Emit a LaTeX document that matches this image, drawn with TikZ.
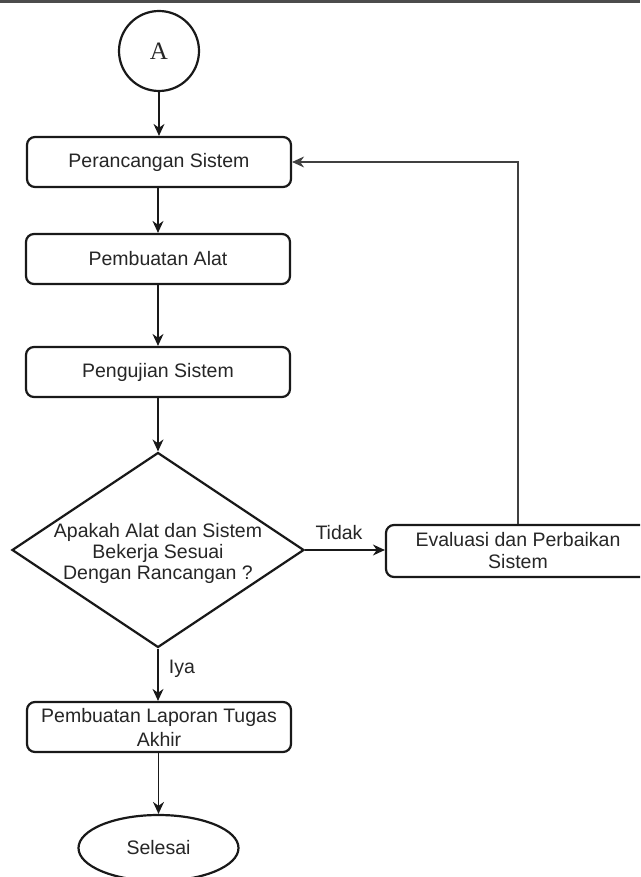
\documentclass[tikz,border=0pt]{standalone}
\usepackage{fontspec}
\setmainfont{Liberation Sans}
\newfontfamily\serifA{Liberation Serif}
\usetikzlibrary{shapes.geometric,arrows.meta}
\begin{document}
\begin{tikzpicture}[x=1pt,y=-1pt,
  every node/.style={text=black!85},
  procbox/.style={draw=black!90, line width=2.2pt, rounded corners=8pt, minimum width=264pt, minimum height=50pt, align=center, font=\fontsize{19.5}{22}\selectfont, inner sep=0pt},
  arr/.style={draw=black!90, line width=1.4pt, -{Stealth[length=12pt,width=11pt]}},
  lbl/.style={font=\fontsize{19.5}{22}\selectfont, inner sep=0pt}]
\useasboundingbox (0,0) rectangle (640,877);
\clip (0,0) rectangle (640,877);
\fill[white] (0,0) rectangle (640,877);
% top border line
\draw[line width=3pt, draw=black!70] (0,1.5) -- (640,1.5);
% nodes
\node[draw=black!90, line width=2.2pt, circle, minimum size=80pt, inner sep=0pt, font=\serifA\fontsize{25}{28}\selectfont] (a) at (159,51) {A};
\node[procbox] (per) at (159,162) {Perancangan Sistem};
\node[procbox] (pem) at (158,259) {Pembuatan Alat};
\node[procbox] (uji) at (158,372) {Pengujian Sistem};
\node[draw=black!90, line width=2.2pt, diamond, minimum width=292pt, minimum height=195pt, inner sep=0pt] (dec) at (158,550) {};
\node[lbl, align=center, font=\fontsize{19.5}{21}\selectfont] (dectxt) at (158,553) {Apakah Alat dan Sistem\\Bekerja Sesuai\\Dengan Rancangan ?};
\node[procbox, minimum height=52pt] (eva) at (518,551) {Evaluasi dan Perbaikan\\Sistem};
\node[procbox, font=\fontsize{19.5}{24}\selectfont] (lap) at (159,727) {Pembuatan Laporan Tugas\\Akhir};
\node[draw=black!90, line width=2.2pt, ellipse, minimum width=160pt, minimum height=66pt, inner sep=0pt, font=\fontsize{19.5}{22}\selectfont] (sel) at (158.5,848) {Selesai};
% labels
\node[lbl] (tidak) at (339,533) {Tidak};
\node[lbl] (iya) at (182,669) {Iya};
% connectors
\draw[arr] (a.south) -- (per.north -| a.south);
\draw[arr] (per.south -| pem.north) -- (pem.north);
\draw[arr] (pem.south) -- (uji.north);
\draw[arr] (uji.south) -- (dec.north);
\draw[arr] (dec.east) -- (dec.east -| eva.west);
\draw[arr, line width=1.1pt, draw=black!75] (eva.north) |- (per.east);
\draw[arr] (dec.south) -- (lap.north -| dec.south);
\draw[arr] (lap.south -| sel.north) -- (sel.north);
\end{tikzpicture}
\end{document}
